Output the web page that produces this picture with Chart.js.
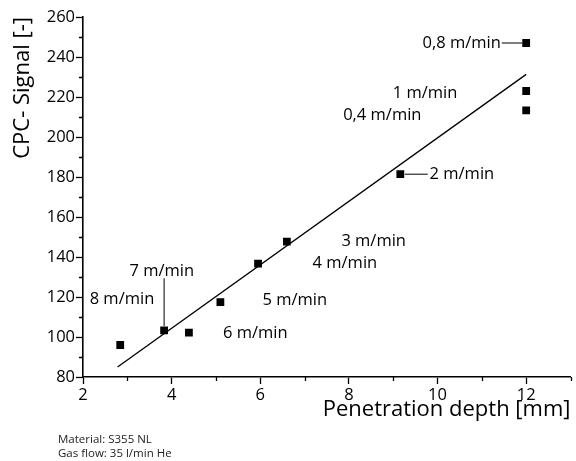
<!DOCTYPE html>
<html>
<head>
<meta charset="utf-8">
<script src="https://cdn.jsdelivr.net/npm/chart.js@4/dist/chart.umd.min.js"></script>
<style>
  html, body { margin: 0; padding: 0; background: #fff; }
  #wrap { width: 576px; height: 461px; }
</style>
</head>
<body>
<div id="wrap"><canvas id="myChart" width="576" height="461"></canvas></div>
<script>
'use strict';

// Data

let depthMm = [2.84, 3.83, 4.39, 5.10, 5.95, 6.60, 9.16, 12, 12, 12];
let cpcSignal = [96, 103.3, 102.2, 117.4, 136.7, 147.7, 181.4, 247, 223, 213.3];

// fitted line, the two ends as drawn
let fitDepth = [2.78, 12];
let fitSignal = [85, 231.3];

// labelled ticks (the others are minor ticks)
let xTickLabels = [2, 4, 6, 8, 10, 12];
let yTickLabels = [80, 100, 120, 140, 160, 180, 200, 220, 240, 260];

// speed notes: text, where it sits (data units), optional leader line
let notes = [
  { text: '0,8 m/min', x: 9.66, y: 247, lead: [11.45, 247, 11.92, 247] },
  { text: '1 m/min', x: 8.99, y: 222 },
  { text: '0,4 m/min', x: 7.87, y: 210.8 },
  { text: '2 m/min', x: 9.82, y: 181.4, lead: [9.26, 181.4, 9.78, 181.4] },
  { text: '3 m/min', x: 7.83, y: 148 },
  { text: '4 m/min', x: 7.18, y: 137 },
  { text: '5 m/min', x: 6.05, y: 118.4 },
  { text: '6 m/min', x: 5.16, y: 101.9 },
  { text: '7 m/min', x: 3.05, y: 133, lead: [3.83, 129.4, 3.83, 105.5] },
  { text: '8 m/min', x: 2.15, y: 118.7 }
];

let footLines = ['Material: S355 NL', 'Gas flow: 35 l/min He'];

let fontName = '"Open Sans", "Noto Sans", sans-serif';
let ctx = document.getElementById('myChart').getContext('2d');

// minor ticks, speed notes and the footnote
let extras = {
  id: 'extras',
  afterDraw(chart) {
    let c = chart.ctx;
    let xs = chart.scales.x;
    let ys = chart.scales.y;
    c.save();
    c.strokeStyle = '#000';
    c.lineWidth = 1.3;

    // minor ticks
    c.beginPath();
    xs.ticks.forEach(t => {
      if (!xTickLabels.includes(t.value)) {
        let px = Math.round(xs.getPixelForValue(t.value)) + 0.5;
        c.moveTo(px, xs.top);
        c.lineTo(px, xs.top + 4);
      }
    });
    ys.ticks.forEach(t => {
      if (!yTickLabels.includes(t.value)) {
        let py = Math.round(ys.getPixelForValue(t.value)) + 0.5;
        c.moveTo(ys.right, py);
        c.lineTo(ys.right - 4, py);
      }
    });
    c.stroke();

    // notes
    c.fillStyle = '#000';
    c.font = '16.5px ' + fontName;
    c.textAlign = 'left';
    c.textBaseline = 'middle';
    c.lineWidth = 1;
    for (let i = 0; i < notes.length; i++) {
      let n = notes[i];
      c.fillText(n.text, xs.getPixelForValue(n.x), ys.getPixelForValue(n.y));
      if (n.lead) {
        c.beginPath();
        c.moveTo(xs.getPixelForValue(n.lead[0]), ys.getPixelForValue(n.lead[1]));
        c.lineTo(xs.getPixelForValue(n.lead[2]), ys.getPixelForValue(n.lead[3]));
        c.stroke();
      }
    }

    // footnote
    c.font = '11.5px ' + fontName;
    c.fillStyle = '#222';
    c.fillText(footLines[0], 58, 440);
    c.fillText(footLines[1], 58, 454);
    c.restore();
  }
};

let chartObject = {
  type: 'scatter',
  data: {
    datasets: [{
      data: depthMm.map((d, i) => ({ x: d, y: cpcSignal[i] })),
      pointStyle: 'rect',
      pointRadius: 5.5,
      backgroundColor: '#000',
      borderColor: '#000',
      borderWidth: 0
    },
    {
      type: 'line',
      data: fitDepth.map((d, i) => ({ x: d, y: fitSignal[i] })),
      borderColor: '#000',
      borderWidth: 1.3,
      pointRadius: 0,
      fill: false
    }]
  },
  options: {
    responsive: false,
    animation: false,
    layout: { padding: { top: 17, right: 3, left: 0, bottom: 0 } },
    plugins: { legend: { display: false }, tooltip: { enabled: false } },
    scales: {
      x: {
        type: 'linear',
        min: 2,
        max: 13,
        afterFit: s => { s.height = 84; },
        ticks: {
          stepSize: 1,
          autoSkip: false,
          maxRotation: 0,
          padding: 1,
          color: '#000',
          font: { family: fontName, size: 16.5 },
          callback: v => xTickLabels.includes(v) ? String(v) : ''
        },
        grid: {
          drawOnChartArea: false,
          tickLength: 7,
          tickWidth: 1.3,
          tickColor: c => xTickLabels.includes(c.tick.value) ? '#000' : 'rgba(0,0,0,0)'
        },
        border: { display: true, color: '#000', width: 1.6 },
        title: {
          display: true,
          text: 'Penetration depth [mm]',
          align: 'end',
          color: '#000',
          font: { family: fontName, size: 22, lineHeight: 1.2 },
          padding: { top: 0, bottom: 38 }
        }
      },
      y: {
        min: 80,
        max: 260,
        afterFit: s => { s.width = 83; },
        ticks: {
          stepSize: 10,
          autoSkip: false,
          padding: 1,
          color: '#000',
          font: { family: fontName, size: 16.5 },
          callback: v => yTickLabels.includes(v) ? String(v) : ''
        },
        grid: {
          drawOnChartArea: false,
          tickLength: 7,
          tickWidth: 1.3,
          tickColor: c => yTickLabels.includes(c.tick.value) ? '#000' : 'rgba(0,0,0,0)'
        },
        border: { display: true, color: '#000', width: 1.6 },
        title: {
          display: true,
          text: 'CPC- Signal [-]',
          align: 'end',
          color: '#000',
          font: { family: fontName, size: 22, lineHeight: 1.2 },
          padding: { top: 10, bottom: 0 }
        }
      }
    }
  },
  plugins: [extras]
};

new Chart(ctx, chartObject); //eslint-disable-line
</script>
</body>
</html>
